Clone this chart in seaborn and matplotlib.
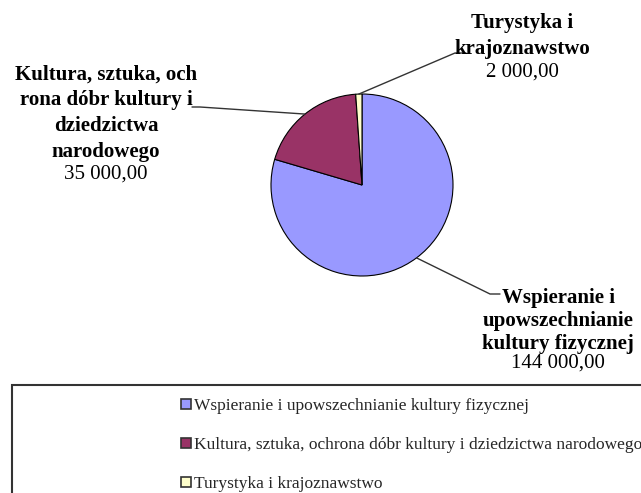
import numpy as np
import matplotlib
matplotlib.use("Agg")
import matplotlib.pyplot as plt
import seaborn as sns
from matplotlib.patches import Rectangle

# ---------------- Data ----------------
categories = [
    "Wspieranie i upowszechnianie kultury fizycznej",
    "Kultura, sztuka, ochrona dóbr kultury i dziedzictwa narodowego",
    "Turystyka i krajoznawstwo",
]
values = [144000.00, 35000.00, 2000.00]
label_names = [
    "Wspieranie i\nupowszechnianie\nkultury fizycznej",
    "Kultura, sztuka, och\nrona dóbr kultury i\ndziedzictwa\nnarodowego",
    "Turystyka i\nkrajoznawstwo",
]
colors = ["#9999FF", "#993366", "#FFFFCC"]

sns.set_theme(style="white")
plt.rcParams["font.family"] = ["Liberation Serif", "DejaVu Serif"]

H = 493
fig = plt.figure(figsize=(6.41, 4.93), dpi=100)
ax = fig.add_axes([0, 0, 1, 1])
ax.axis("off")

cx, cy, r = 362, H - 185, 91
wedges, _ = ax.pie(values, colors=colors, startangle=90, counterclock=False,
                   center=(cx, cy), radius=r,
                   wedgeprops=dict(edgecolor="black", linewidth=0.8))
ax.set_xlim(0, 641)
ax.set_ylim(0, H)
ax.set_aspect("equal")


def fmt(v):
    s = f"{v:,.2f}"
    return s.replace(",", " ").replace(".", ",")


# label layout: (text x, name center y, line spacing, value y, elbow pt, end pt) in pixel coords
layout = [
    (558, 321, 1.22, 363, (490, 294), (500, 294)),
    (106, 113, 1.38, 174, (200, 107), (192, 107)),
    (522, 36, 1.38, 72, (455, 53), (466, 53)),
]

for w, name, v, (tx, ny, ls, vy, elbow, end) in zip(wedges, label_names, values, layout):
    mid = np.deg2rad((w.theta1 + w.theta2) / 2)
    p0 = (cx + r * np.cos(mid), cy + r * np.sin(mid))
    ax.plot([p0[0], elbow[0], end[0]], [p0[1], H - elbow[1], H - end[1]],
            color="#333333", lw=1.0)
    ax.text(tx, H - ny, name, ha="center", va="center", fontsize=15,
            fontweight="bold", linespacing=ls, color="black")
    ax.text(tx, H - vy, fmt(v), ha="center", va="center", fontsize=15,
            color="black")

# legend box
ax.add_patch(Rectangle((12, -10), 640, H - 385 + 10, fill=False,
                       edgecolor="#333333", linewidth=1.5, clip_on=False))
leg = ax.legend(wedges, categories, loc="upper left",
                bbox_to_anchor=(181, H - 398), bbox_transform=ax.transData,
                frameon=False, fontsize=12.5, handlelength=0.55, handleheight=0.55,
                handletextpad=0.2, labelspacing=1.33, borderaxespad=0,
                borderpad=0)
for h in leg.legend_handles:
    h.set_edgecolor("#333333")
    h.set_linewidth(1.2)

fig.savefig("out.png", dpi=100)
